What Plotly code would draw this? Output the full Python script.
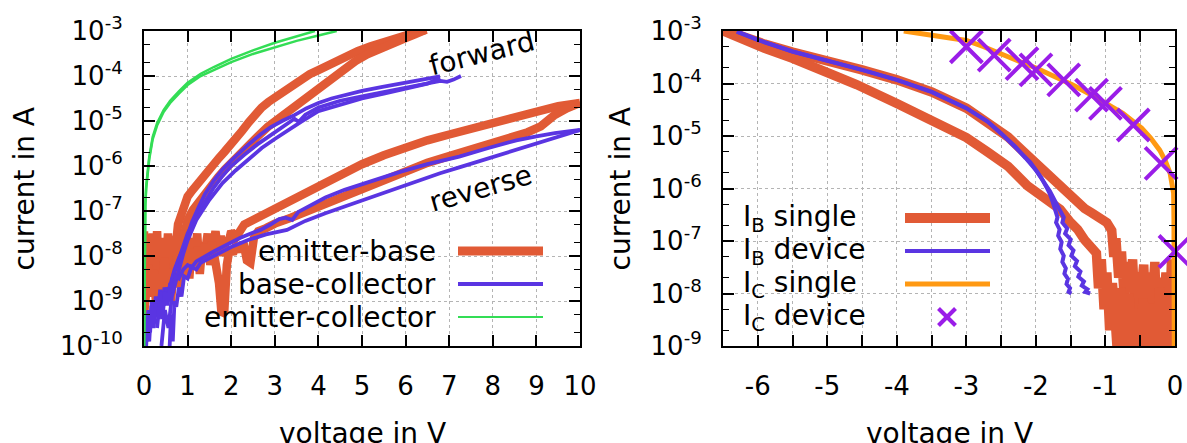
import numpy as np
import plotly.graph_objects as go

W, H = 1187, 443
FONT = "DejaVu Sans"

C_EB = "#E15A35"      # emitter-base / I_B single
C_BC = "#5A35E2"      # base-collector / I_B device
C_EC = "#33DD55"      # emitter-collector
C_ICS = "#FF9912"     # I_C single
C_ICD = "#9A1DE8"     # I_C device

# ---------------- left panel: junction sweeps, current as log10(I / A) ----------------
eb_fwd_a_v = [0.50, 0.55, 0.60, 0.66, 0.72, 0.78, 0.85, 0.92, 1.00, 1.10, 1.20, 1.32, 1.44, 1.58, 1.72, 1.85,
              1.96, 2.10, 2.25, 2.40, 2.55, 2.70, 2.85, 3.02, 3.20, 3.40, 3.60, 3.80, 4.00, 4.30, 4.60, 4.90,
              5.20, 5.50, 5.80, 6.10, 6.48]
eb_fwd_a_log = [-8.7, -8.1, -8.4, -7.7, -7.9, -7.3, -7.1, -6.9, -6.68, -6.55, -6.42, -6.28, -6.15, -5.98, -5.82,
                -5.68, -5.57, -5.40, -5.22, -5.03, -4.85, -4.70, -4.58, -4.47, -4.34, -4.20, -4.07, -3.96, -3.87,
                -3.72, -3.58, -3.45, -3.34, -3.24, -3.15, -3.07, -2.97]

eb_fwd_b_v = [0.62, 0.68, 0.75, 0.82, 0.90, 1.00, 1.12, 1.25, 1.40, 1.55, 1.70, 1.85, 2.00, 2.20, 2.40, 2.60,
              2.84, 3.02, 3.20, 3.37, 3.55, 3.75, 3.98, 4.20, 4.40, 4.60, 4.85, 5.12, 5.40, 5.70, 6.00, 6.20, 6.44]
eb_fwd_b_log = [-9.0, -8.3, -8.6, -7.8, -7.6, -7.2, -6.98, -6.8, -6.6, -6.42, -6.25, -6.08, -5.92, -5.72, -5.52,
                -5.35, -5.13, -5.0, -4.85, -4.7, -4.57, -4.42, -4.26, -4.1, -3.95, -3.82, -3.67, -3.52, -3.39,
                -3.27, -3.16, -3.08, -2.98]

eb_rev_a_v = [0.00, 0.00, 0.03, 0.06, 0.09, 0.13, 0.17, 0.21, 0.25, 0.30, 0.34, 0.38, 0.42, 0.46, 0.50, 0.55,
              0.60, 0.65, 0.70, 0.75, 0.80, 0.86, 0.92, 0.98, 1.04, 1.10, 1.16, 1.22, 1.28, 1.34, 1.40, 1.46,
              1.52, 1.58, 1.64, 1.70, 1.76, 1.82, 1.88, 1.94, 2.00, 2.10, 2.20, 2.30, 2.40,
              2.50, 2.70, 3.00, 3.30, 3.60, 4.00, 4.50, 5.00, 5.50, 6.00, 6.50, 7.00, 7.50, 8.00, 8.50, 9.00,
              9.50, 10.0]
eb_rev_a_log = [-9.4, -7.45, -8.6, -7.5, -8.3, -7.6, -8.8, -7.5, -8.1, -7.45, -8.4, -7.7, -8.9, -7.6, -8.2, -7.5,
                -8.6, -7.8, -8.3, -7.55, -8.7, -7.7, -8.1, -7.45, -8.5, -7.6, -8.0, -7.5, -8.4, -7.7, -7.9,
                -7.5, -8.2, -7.8, -7.45, -7.9, -7.55, -8.0, -7.6, -7.7, -7.45, -7.6, -7.4,
                -7.3, -7.25, -7.2, -7.08, -6.92, -6.77, -6.62, -6.42, -6.18, -5.96, -5.76, -5.58, -5.43, -5.3,
                -5.17, -5.03, -4.9, -4.77, -4.67, -4.6]

eb_rev_b_v = [0.00, 0.00, 0.05, 0.10, 0.16, 0.22, 0.28, 0.34, 0.40, 0.47, 0.54, 0.60, 0.68, 0.76, 0.84, 0.92,
              1.00, 1.08, 1.16, 1.24, 1.32, 1.40, 1.48, 1.56, 1.64, 1.72, 1.78, 1.84, 1.90, 1.96, 2.04, 2.12,
              2.20, 2.28, 2.36, 2.44, 2.52, 2.62, 2.80, 3.00, 3.37, 3.70, 4.00, 4.60, 5.00, 5.50, 6.00, 6.50,
              7.00, 7.50, 8.00, 8.50, 8.80, 9.10, 9.40, 9.70, 10.0]
eb_rev_b_log = [-7.5, -9.3, -8.8, -8.2, -8.9, -8.3, -9.1, -8.4, -8.7, -8.05, -8.8, -8.3, -8.6, -8.0, -8.5, -7.9,
                -8.3, -7.85, -8.2, -7.8, -8.1, -7.75, -8.0, -7.7, -8.15, -8.6, -9.3, -9.25, -8.2, -7.85, -7.95,
                -7.75, -7.9, -7.7, -8.1, -8.15, -7.6, -7.45, -7.38, -7.28, -7.15, -7.02, -6.9, -6.66, -6.5,
                -6.3, -6.1, -5.93, -5.78, -5.64, -5.5, -5.36, -5.25, -5.12, -4.88, -4.72, -4.6]

bc_fwd_a_v = [0.00, 0.03, 0.06, 0.10, 0.14, 0.18, 0.22, 0.27, 0.32, 0.37, 0.42, 0.47, 0.52, 0.56, 0.63, 0.70,
              0.80, 0.90, 1.00, 1.10, 1.26, 1.40, 1.61, 1.80, 2.00, 2.14, 2.40, 2.67, 2.90, 3.19, 3.45, 3.72,
              4.00, 4.30, 4.60, 5.00, 5.47, 5.90, 6.35, 6.79]
bc_fwd_a_log = [-10.3, -9.3, -9.9, -9.2, -9.7, -9.0, -9.5, -8.9, -9.3, -8.75, -9.1, -8.7, -9.0, -8.9, -8.55, -8.3,
                -8.05, -7.85, -7.55, -7.25, -6.9, -6.62, -6.31, -6.08, -5.88, -5.75, -5.52, -5.3, -5.14, -4.99,
                -4.87, -4.72, -4.6, -4.5, -4.42, -4.33, -4.24, -4.16, -4.08, -4.01]

bc_fwd_b_v = [0.00, 0.04, 0.08, 0.12, 0.17, 0.22, 0.28, 0.34, 0.40, 0.46, 0.52, 0.58, 0.65, 0.75, 0.85, 1.00,
              1.20, 1.40, 1.60, 1.80, 2.00, 2.30, 2.60, 2.90, 3.10, 3.30, 3.45, 3.55, 3.70, 4.00, 4.50, 5.00,
              5.50, 6.00, 6.50, 6.80, 6.95, 7.10, 7.27]
bc_fwd_b_log = [-9.6, -10.2, -9.4, -9.9, -9.1, -9.6, -9.0, -9.4, -8.8, -9.1, -8.7, -8.85, -8.5, -8.2, -7.9, -7.5,
                -7.12, -6.78, -6.48, -6.22, -6.0, -5.75, -5.52, -5.32, -5.18, -5.03, -4.95, -5.02, -4.86, -4.7,
                -4.55, -4.45, -4.35, -4.25, -4.16, -4.11, -4.13, -4.08, -4.0]

bc_fwd_c_v = [0.40, 0.48, 0.56, 0.64, 0.72, 0.80, 0.90, 1.00, 1.20, 1.50, 1.80, 2.10, 2.40, 2.70, 3.00, 3.30,
              3.60, 4.00, 4.50, 5.00, 5.50, 6.00, 6.50, 6.79]
bc_fwd_c_log = [-10.0, -9.2, -9.6, -8.9, -8.6, -8.3, -7.95, -7.65, -7.2, -6.75, -6.38, -6.1, -5.85, -5.6, -5.4,
                -5.2, -5.02, -4.78, -4.63, -4.5, -4.39, -4.28, -4.17, -4.04]

bc_rev_a_v = [0.30, 0.36, 0.42, 0.48, 0.54, 0.60, 0.66, 0.72, 0.80, 0.90, 1.00, 1.10, 1.20, 1.32, 1.44, 1.60,
              1.80, 1.96, 2.20, 2.45, 2.67, 2.90, 3.10, 3.25, 3.40, 3.54, 3.80, 4.16, 4.60, 5.04, 5.50, 5.91,
              6.50, 7.23, 7.90, 8.54, 9.00, 9.42, 10.0]
bc_rev_a_log = [-9.6, -9.0, -9.4, -8.8, -9.1, -8.6, -8.8, -8.45, -8.5, -8.3, -8.2, -8.25, -8.12, -8.05, -8.0, -7.9,
                -7.8, -7.72, -7.6, -7.5, -7.42, -7.3, -7.18, -7.15, -7.2, -7.02, -6.88, -6.7, -6.53, -6.39,
                -6.25, -6.12, -5.96, -5.79, -5.6, -5.43, -5.34, -5.27, -5.2]

bc_rev_b_v = [0.58, 0.62, 0.66, 0.70, 0.74, 0.80, 0.86, 0.92, 1.00, 1.09, 1.20, 1.30, 1.40, 1.55, 1.70, 2.00,
              2.40, 2.80, 3.28, 3.70, 4.16, 4.60, 5.04, 5.50, 5.91, 6.35, 6.79, 7.23, 7.67, 8.10, 8.54, 9.00,
              9.42, 9.70, 10.0]
bc_rev_b_log = [-10.2, -9.3, -9.9, -9.0, -9.13, -8.7, -8.9, -8.45, -8.5, -8.24, -8.3, -8.15, -8.1, -8.02, -7.95,
                -7.8, -7.64, -7.52, -7.42, -7.22, -7.05, -6.9, -6.76, -6.6, -6.46, -6.3, -6.16, -6.03, -5.9,
                -5.77, -5.64, -5.51, -5.39, -5.3, -5.2]

ec_a_v = [0.0, 0.005, 0.01, 0.015, 0.02, 0.03, 0.05, 0.08, 0.12, 0.2, 0.3, 0.45, 0.6, 0.8, 1.0, 1.3, 1.6, 2.0,
          2.5, 3.0, 3.5, 3.92]
ec_a_log = [-10.2, -9.0, -8.2, -7.6, -7.2, -6.85, -6.45, -6.1, -5.8, -5.35, -5.05, -4.76, -4.55, -4.34, -4.15,
            -3.95, -3.8, -3.62, -3.43, -3.26, -3.12, -3.0]

ec_b_v = [0.0, 0.005, 0.01, 0.015, 0.02, 0.03, 0.05, 0.08, 0.12, 0.2, 0.3, 0.45, 0.6, 0.8, 1.0, 1.3, 1.6, 2.0,
          2.5, 3.0, 3.5, 4.0, 4.42]
ec_b_log = [-10.2, -9.1, -8.3, -7.7, -7.3, -6.9, -6.5, -6.15, -5.85, -5.4, -5.1, -4.8, -4.6, -4.39, -4.2, -4.0,
            -3.86, -3.69, -3.51, -3.36, -3.22, -3.1, -3.0]

# ---------------- right panel: base / collector currents ----------------
ib_single_a_v = [-6.55, -6.2, -5.9, -5.5, -5.0, -4.5, -4.0, -3.5, -3.0, -2.7, -2.4, -2.2, -2.0, -1.84, -1.7,
                 -1.57, -1.45, -1.3, -1.2, -1.08, -0.98, -0.91, -0.88, -0.85, -0.81, -0.77, -0.73, -0.69, -0.65,
                 -0.61, -0.57, -0.53, -0.49, -0.45, -0.41, -0.37, -0.33, -0.29, -0.25, -0.21, -0.17, -0.13,
                 -0.09, -0.05, -0.02, 0.0]
ib_single_a_log = [-2.95, -3.12, -3.25, -3.4, -3.56, -3.74, -3.93, -4.16, -4.47, -4.72, -5.02, -5.27, -5.52,
                   -5.71, -5.9, -6.06, -6.22, -6.38, -6.46, -6.54, -6.65, -6.8, -7.3, -6.95, -7.7, -7.2, -8.1,
                   -7.4, -7.9, -7.35, -8.4, -7.6, -8.0, -7.45, -8.7, -7.6, -8.2, -7.4, -9.2, -7.7, -8.3, -7.6,
                   -8.9, -7.35, -8.2, -9.3]

ib_single_b_v = [-6.55, -6.2, -5.9, -5.5, -5.0, -4.58, -4.0, -3.5, -3.0, -2.7, -2.4, -2.12, -1.84, -1.65, -1.52,
                 -1.4, -1.3, -1.2, -1.13, -1.10, -1.06, -1.02, -0.98, -0.94, -0.90, -0.86, -0.82, -0.78, -0.74,
                 -0.70, -0.66, -0.62, -0.58, -0.54, -0.50, -0.46, -0.42, -0.38, -0.34, -0.30, -0.26, -0.22,
                 -0.18, -0.14, -0.10, -0.06, -0.03, -0.01]
ib_single_b_log = [-2.97, -3.18, -3.33, -3.52, -3.78, -4.02, -4.38, -4.7, -5.03, -5.3, -5.58, -5.95, -6.2, -6.4,
                   -6.62, -6.78, -6.98, -7.1, -7.23, -7.9, -7.35, -8.3, -7.6, -8.7, -7.8, -8.5, -9.3, -7.9, -8.6,
                   -9.2, -8.0, -9.4, -8.3, -8.9, -9.3, -8.1, -8.7, -9.5, -8.2, -8.8, -9.4, -7.9, -8.6, -9.1,
                   -8.0, -9.3, -8.2, -9.4]

ib_device_a_v = [-6.3, -6.0, -5.5, -5.0, -4.5, -4.0, -3.5, -3.0, -2.7, -2.5, -2.3, -2.19, -2.08, -2.0, -1.92,
                 -1.85, -1.8, -1.76, -1.72, -1.69, -1.71, -1.66, -1.68, -1.63, -1.65, -1.60, -1.62, -1.57, -1.59,
                 -1.54, -1.56, -1.51, -1.53, -1.49]
ib_device_a_log = [-3.01, -3.17, -3.39, -3.56, -3.74, -3.93, -4.16, -4.47, -4.72, -4.95, -5.2, -5.35, -5.5,
                   -5.65, -5.8, -5.97, -6.1, -6.25, -6.42, -6.55, -6.65, -6.78, -6.9, -7.02, -7.15, -7.28, -7.4,
                   -7.52, -7.62, -7.72, -7.82, -7.9, -7.97, -8.0]

ib_device_b_v = [-6.3, -6.0, -5.5, -5.0, -4.5, -4.0, -3.5, -3.0, -2.7, -2.5, -2.3, -2.15, -2.0, -1.9, -1.8,
                 -1.72, -1.65, -1.60, -1.62, -1.55, -1.58, -1.50, -1.53, -1.46, -1.49, -1.41, -1.44, -1.36, -1.39,
                 -1.31, -1.34, -1.26, -1.29, -1.22]
ib_device_b_log = [-3.01, -3.17, -3.39, -3.56, -3.74, -3.93, -4.16, -4.47, -4.72, -4.95, -5.2, -5.42, -5.65,
                   -5.85, -6.05, -6.25, -6.42, -6.55, -6.65, -6.76, -6.86, -6.97, -7.08, -7.18, -7.28, -7.38,
                   -7.48, -7.58, -7.68, -7.77, -7.85, -7.92, -7.97, -8.0]

ic_single_v = [-3.9, -3.6, -3.3, -3.0, -2.75, -2.48, -2.2, -1.99, -1.75, -1.47, -1.2, -0.98, -0.75, -0.48,
               -0.35, -0.22, -0.14, -0.07, -0.04, -0.02, -0.015, -0.012, -0.01]
ic_single_log = [-3.0, -3.06, -3.12, -3.18, -3.3, -3.46, -3.6, -3.71, -3.85, -4.03, -4.22, -4.38, -4.57, -4.85,
                 -5.04, -5.27, -5.47, -5.71, -5.9, -6.09, -6.6, -7.5, -9.2]

ic_device_v = [-3.0, -2.6, -2.2, -2.0, -1.6, -1.2, -1.0, -0.6, -0.2, 0.0]
ic_device_log = [-3.30, -3.46, -3.62, -3.74, -3.93, -4.22, -4.38, -4.79, -5.52, -7.2]

left_xticks = list(range(0, 11))
right_xticks = [-6.5, -6, -5.5, -5, -4.5, -4, -3.5, -3, -2.5, -2, -1.5, -1, -0.5, 0]
left_decades = list(range(-10, -2))
right_decades = list(range(-9, -2))


def amps(logs):
    return np.power(10.0, np.array(logs))


fig = go.Figure()


def line(v, lg, color, width, axis, name):
    xa, ya = axis
    fig.add_trace(go.Scatter(x=v, y=amps(lg), mode="lines", name=name, showlegend=False,
                             line=dict(color=color, width=width), xaxis=xa, yaxis=ya))


L = ("x", "y")
R = ("x2", "y2")

line(eb_fwd_a_v, eb_fwd_a_log, C_EB, 8.5, L, "emitter-base")
line(eb_fwd_b_v, eb_fwd_b_log, C_EB, 8.5, L, "emitter-base")
line(eb_rev_a_v, eb_rev_a_log, C_EB, 8.5, L, "emitter-base")
line(eb_rev_b_v, eb_rev_b_log, C_EB, 8.5, L, "emitter-base")
line(bc_fwd_a_v, bc_fwd_a_log, C_BC, 3.8, L, "base-collector")
line(bc_fwd_b_v, bc_fwd_b_log, C_BC, 3.8, L, "base-collector")
line(bc_fwd_c_v, bc_fwd_c_log, C_BC, 3.8, L, "base-collector")
line(bc_rev_a_v, bc_rev_a_log, C_BC, 3.8, L, "base-collector")
line(bc_rev_b_v, bc_rev_b_log, C_BC, 3.8, L, "base-collector")
line(ec_a_v, ec_a_log, C_EC, 2.5, L, "emitter-collector")
line(ec_b_v, ec_b_log, C_EC, 2.5, L, "emitter-collector")

line(ib_single_a_v, ib_single_a_log, C_EB, 9.5, R, "I_B single")
line(ib_single_b_v, ib_single_b_log, C_EB, 9.5, R, "I_B single")
line(ib_device_a_v, ib_device_a_log, C_BC, 4, R, "I_B device")
line(ib_device_b_v, ib_device_b_log, C_BC, 4, R, "I_B device")
line(ic_single_v, ic_single_log, C_ICS, 5, R, "I_C single")
fig.add_trace(go.Scatter(x=ic_device_v, y=amps(ic_device_log), mode="markers", name="I_C device",
                         showlegend=False, cliponaxis=False, xaxis="x2", yaxis="y2",
                         marker=dict(symbol="x-thin", size=32, color=C_ICD,
                                     line=dict(color=C_ICD, width=4))))

tickfont = dict(family=FONT, size=26, color="black")
titlefont = dict(family=FONT, size=28, color="black")

ydom = [1 - 346 / H, 1 - 31 / H]
common_x = dict(showline=True, linewidth=2, linecolor="black", mirror="allticks", ticks="inside",
                ticklen=11, tickwidth=1.5, tickcolor="black", showgrid=True, gridcolor="#b4b4b4",
                griddash="dot", gridwidth=1, zeroline=False, tickfont=tickfont, ticklabelstandoff=16,
                automargin=False)
common_y = dict(type="log", showline=True, linewidth=2, linecolor="black", mirror="allticks", ticks="inside",
                ticklen=11, tickwidth=1.5, tickcolor="black", showgrid=True, gridcolor="#b4b4b4",
                griddash="dot", gridwidth=1, zeroline=False, tickfont=tickfont, ticklabelstandoff=14,
                minor=dict(ticks="inside", ticklen=6, tickwidth=1.2, tickcolor="black", showgrid=False),
                domain=ydom, automargin=False)


def sup(d):
    return "10<sup>%d</sup>" % d


fig.update_layout(
    width=W, height=H, margin=dict(l=0, r=0, t=0, b=0, autoexpand=False), autosize=False,
    paper_bgcolor="white", plot_bgcolor="white", showlegend=False,
    font=dict(family=FONT, color="black"),
    xaxis=dict(common_x, domain=[144 / W, 580 / W], range=[0, 10], anchor="y",
               tickvals=left_xticks, ticktext=[str(t) for t in left_xticks]),
    yaxis=dict(common_y, range=[-10, -3], anchor="x",
               tickvals=[10.0 ** d for d in left_decades], ticktext=[sup(d) for d in left_decades]),
    xaxis2=dict(common_x, domain=[723 / W, 1175 / W], range=[-6.5, 0], anchor="y2",
                tickvals=right_xticks,
                ticktext=[("%d" % t) if float(t).is_integer() else "" for t in right_xticks]),
    yaxis2=dict(common_y, range=[-9, -3], anchor="x2",
                tickvals=[10.0 ** d for d in right_decades], ticktext=[sup(d) for d in right_decades]),
)


def px(x):
    return x / W


def py(y):
    return 1 - y / H


shapes = []
annotations = []

# axis titles, placed in pixel positions below / left of each panel
for xc in (362, 949):
    annotations.append(dict(text="voltage in V", x=px(xc), y=py(433), xref="paper", yref="paper",
                            xanchor="center", yanchor="middle", showarrow=False, font=titlefont))
for xc in (24, 620):
    annotations.append(dict(text="current in A", x=px(xc), y=py(188.5), xref="paper", yref="paper",
                            xanchor="center", yanchor="middle", textangle=-90, showarrow=False,
                            font=titlefont))

# key boxes hide the grid behind the key entries
shapes.append(dict(type="rect", xref="paper", yref="paper", x0=px(198), x1=px(562), y0=py(345), y1=py(226),
                   fillcolor="white", line=dict(width=0), layer="between"))
shapes.append(dict(type="rect", xref="paper", yref="paper", x0=px(724), x1=px(1008), y0=py(345), y1=py(198),
                   fillcolor="white", line=dict(width=0), layer="between"))

left_key = [("emitter-base", C_EB, 9, 251), ("base-collector", C_BC, 4, 284), ("emitter-collector", C_EC, 2, 317)]
for label, color, w, yy in left_key:
    annotations.append(dict(text=label, x=px(438), y=py(yy), xref="paper", yref="paper", xanchor="right",
                            yanchor="middle", showarrow=False, font=titlefont))
    shapes.append(dict(type="line", xref="paper", yref="paper", x0=px(458), x1=px(543), y0=py(yy), y1=py(yy),
                       line=dict(color=color, width=w), layer="above"))

right_key = [("I<sub>B</sub> single", C_EB, 10, 218), ("I<sub>B</sub> device", C_BC, 4, 251),
             ("I<sub>C</sub> single", C_ICS, 5, 284), ("I<sub>C</sub> device", None, 0, 317)]
for label, color, w, yy in right_key:
    annotations.append(dict(text=label, x=px(741), y=py(yy), xref="paper", yref="paper", xanchor="left",
                            yanchor="middle", showarrow=False, font=titlefont))
    if color is not None:
        shapes.append(dict(type="line", xref="paper", yref="paper", x0=px(905), x1=px(990), y0=py(yy),
                           y1=py(yy), line=dict(color=color, width=w), layer="above"))
# the cross drawn as the I_C device key sample
cx, cy, hs = 947, 317, 8.5
shapes.append(dict(type="line", xref="paper", yref="paper", x0=px(cx - hs), x1=px(cx + hs), y0=py(cy - hs),
                   y1=py(cy + hs), line=dict(color=C_ICD, width=4), layer="above"))
shapes.append(dict(type="line", xref="paper", yref="paper", x0=px(cx - hs), x1=px(cx + hs), y0=py(cy + hs),
                   y1=py(cy - hs), line=dict(color=C_ICD, width=4), layer="above"))

annotations.append(dict(text="forward", x=7.73, y=-3.49, xref="x", yref="y", showarrow=False,
                        textangle=-14, font=titlefont))
annotations.append(dict(text="reverse", x=7.71, y=-6.49, xref="x", yref="y", showarrow=False,
                        textangle=-16, font=titlefont))

fig.update_layout(shapes=shapes, annotations=annotations)
fig.write_html("out.html")
